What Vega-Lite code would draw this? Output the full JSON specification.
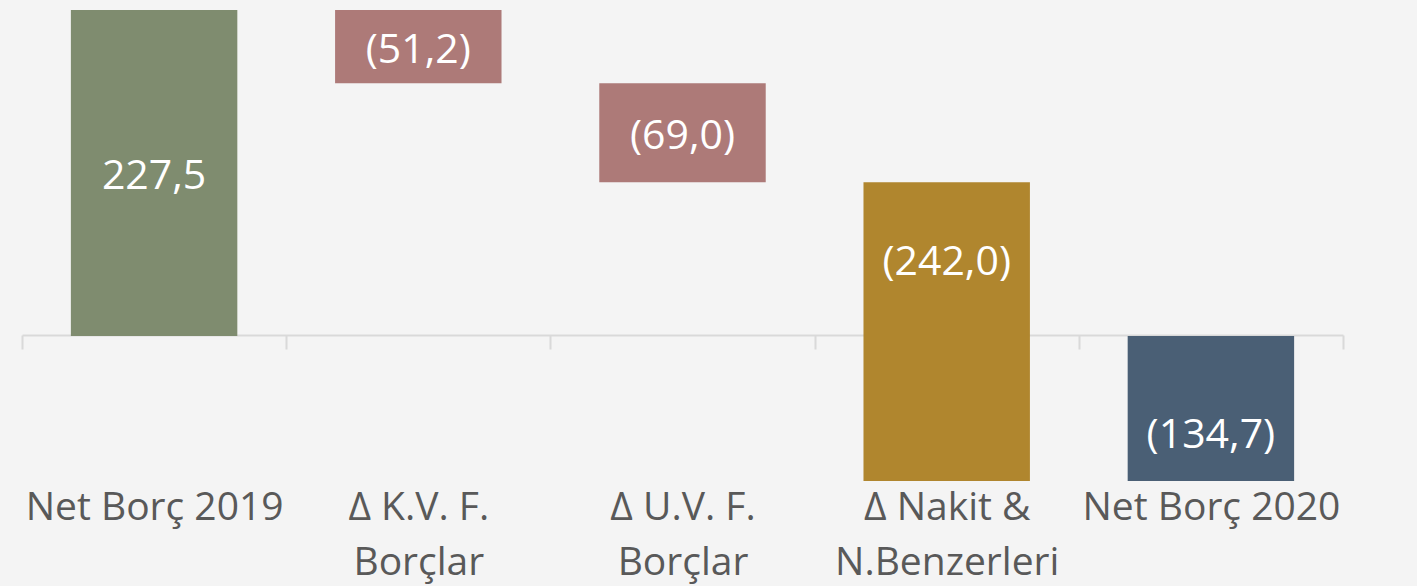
{
  "$schema": "https://vega.github.io/schema/vega-lite/v6.json",
  "autosize": {"type": "none"},
  "width": 1321,
  "height": 471,
  "padding": {"left": 22, "top": 10, "right": 74, "bottom": 105},
  "background": "#f4f4f4",
  "config": {"view": {"stroke": null}, "font": "Open Sans"},
  "data": {
    "values": [
      {"cat": "Net Borç 2019", "start": 0, "end": 227.5, "label": "227,5", "labelAt": 113.75, "kind": "a"},
      {"cat": "Δ K.V. F.|Borçlar", "start": 227.5, "end": 176.3, "label": "(51,2)", "labelAt": 201.9, "kind": "b"},
      {"cat": "Δ U.V. F.|Borçlar", "start": 176.3, "end": 107.3, "label": "(69,0)", "labelAt": 141.8, "kind": "c"},
      {"cat": "Δ Nakit &|N.Benzerleri", "start": 107.3, "end": -134.7, "label": "(242,0)", "labelAt": 53.65, "kind": "d"},
      {"cat": "Net Borç 2020", "start": 0, "end": -134.7, "label": "(134,7)", "labelAt": -67.35, "kind": "e"}
    ]
  },
  "encoding": {
    "x": {
      "field": "cat",
      "type": "nominal",
      "sort": null,
      "scale": {"paddingInner": 0, "paddingOuter": 0},
      "axis": {
        "title": null,
        "labelAngle": 0,
        "offset": -146,
        "domainColor": "#d9d9d9",
        "domainWidth": 2,
        "tickColor": "#d9d9d9",
        "tickWidth": 2,
        "tickSize": 14,
        "tickBand": "extent",
        "labelFontSize": 39,
        "labelColor": "#595959",
        "labelBaseline": "alphabetic",
        "labelPadding": 170,
        "labelLineHeight": 55,
        "labelExpr": "split(datum.label, '|')",
        "labelLimit": 0
      }
    }
  },
  "layer": [
    {
      "mark": {"type": "bar", "width": {"band": 0.63}, "clip": true},
      "encoding": {
        "y": {
          "field": "start",
          "type": "quantitative",
          "scale": {"domain": [-101.2, 227.5], "nice": false, "zero": false},
          "axis": null
        },
        "y2": {"field": "end"},
        "color": {
          "field": "kind",
          "type": "nominal",
          "scale": {"domain": ["a", "b", "c", "d", "e"], "range": ["#7f8c6f", "#ad7a78", "#ad7a78", "#b0862e", "#4a5f75"]},
          "legend": null
        }
      }
    },
    {
      "mark": {"type": "text", "color": "#ffffff", "fontSize": 41, "baseline": "middle", "dy": 4},
      "encoding": {
        "y": {"field": "labelAt", "type": "quantitative"},
        "text": {"field": "label"}
      }
    }
  ]
}
